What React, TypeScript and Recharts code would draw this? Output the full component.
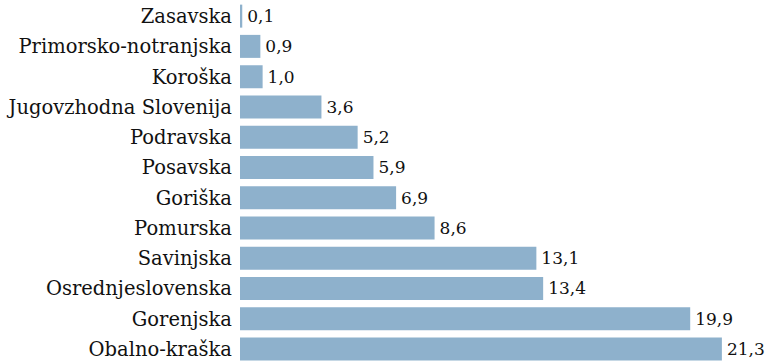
import React from 'react';
import { BarChart, Bar, XAxis, YAxis, LabelList } from 'recharts';

const categories = [
  'Zasavska',
  'Primorsko-notranjska',
  'Koroška',
  'Jugovzhodna Slovenija',
  'Podravska',
  'Posavska',
  'Goriška',
  'Pomurska',
  'Savinjska',
  'Osrednjeslovenska',
  'Gorenjska',
  'Obalno-kraška',
];
const values = [0.1, 0.9, 1.0, 3.6, 5.2, 5.9, 6.9, 8.6, 13.1, 13.4, 19.9, 21.3];

const data = categories.map((name, i) => ({ name, value: values[i] }));

const FONT = '"DejaVu Serif", serif';
const fmt = (v: any) => Number(v).toFixed(1).replace('.', ',');

export default function App() {
  return (
    <div style={{ position: 'absolute', left: 0, top: 0, width: 766, height: 362, overflow: 'hidden', background: '#fff' }}>
      <BarChart
        width={766}
        height={364}
        data={data}
        layout="vertical"
        margin={{ top: 1, right: 0, bottom: 0, left: 0 }}
        barCategoryGap="12%"
      >
        <XAxis type="number" hide domain={[0, 23.25]} />
        <YAxis
          type="category"
          dataKey="name"
          width={240}
          tickLine={false}
          axisLine={false}
          tickSize={0}
          tickMargin={8}
          interval={0}
          tick={{ fill: '#111', fontFamily: FONT, fontSize: 19.5 }}
        />
        <Bar dataKey="value" fill="#8eb1cc" isAnimationActive={false}>
          <LabelList
            dataKey="value"
            position="right"
            offset={5}
            formatter={fmt}
            style={{ fill: '#111', fontFamily: FONT, fontSize: 17 }}
          />
        </Bar>
      </BarChart>
    </div>
  );
}
